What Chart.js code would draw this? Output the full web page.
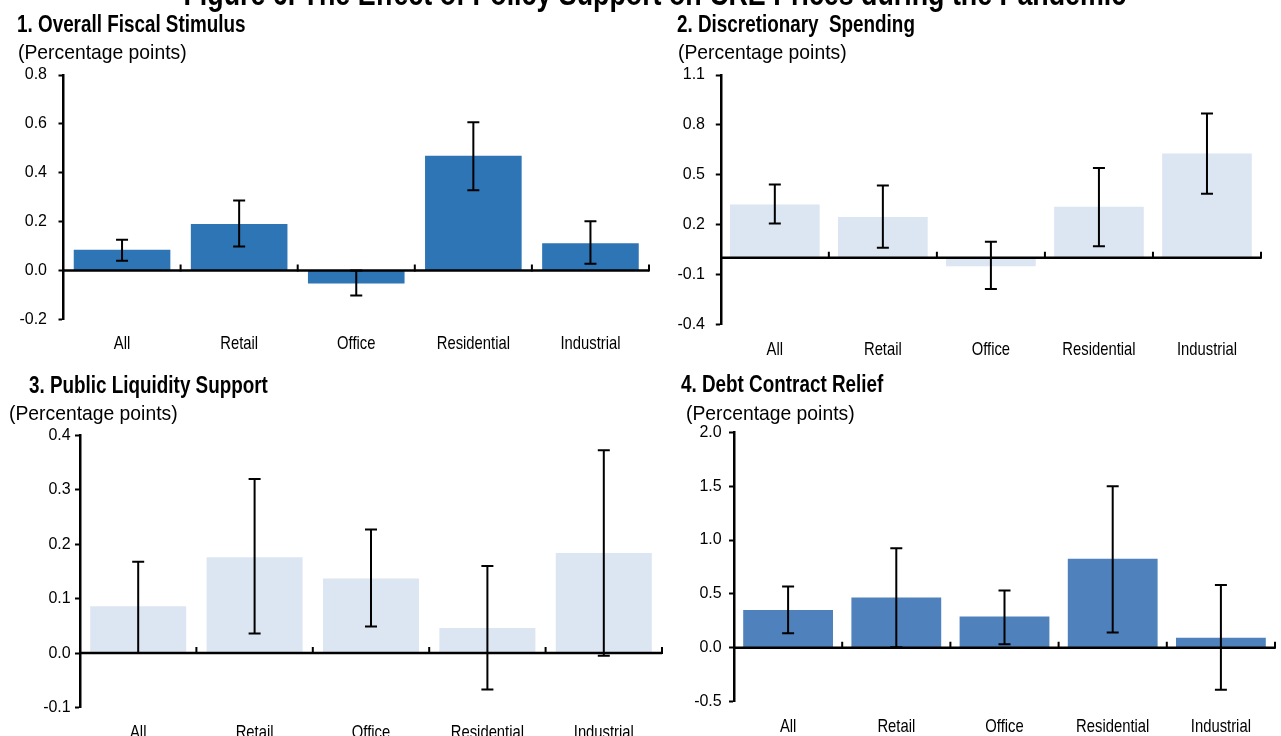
<!DOCTYPE html>
<html lang="en">
<head>
<meta charset="utf-8">
<title>Figure 6. The Effect of Policy Support on CRE Prices during the Pandemic</title>
<script src="https://cdn.jsdelivr.net/npm/chart.js@4.4.1/dist/chart.umd.min.js"></script>
<style>
  html, body { margin: 0; padding: 0; background: #fff; }
  #stage { position: relative; width: 1281px; height: 736px; overflow: hidden;
           font-family: "Liberation Sans", Arial, sans-serif; color: #000; }
  #stage canvas { position: absolute; left: 0; top: 0; }
  .txt { position: absolute; white-space: nowrap; line-height: 1; }
  .main { left: 14px; width: 1281px; text-align: center; top: -22.2px; }
  .main span { display: inline-block; font-weight: bold; font-size: 32.7px; transform: scaleX(0.82); }
  .ttl { font-weight: bold; font-size: 23px; transform: scaleX(0.82); transform-origin: 0 0; }
  .sub { font-size: 21px; transform: scaleX(0.92); transform-origin: 0 0; }
</style>
</head>
<body>
<div id="stage">
  <canvas id="fiscal" width="1281" height="800"></canvas>
  <canvas id="discretionary" width="1281" height="800"></canvas>
  <canvas id="liquidity" width="1281" height="800"></canvas>
  <canvas id="relief" width="1281" height="800"></canvas>

  <div class="txt main"><span>Figure 6. The Effect of Policy Support on CRE Prices during the Pandemic</span></div>

  <div class="txt ttl" style="left:17px; top:12.5px;">1. Overall Fiscal Stimulus</div>
  <div class="txt sub" style="left:18px; top:41.2px;">(Percentage points)</div>

  <div class="txt ttl" style="left:677px; top:12.5px;">2. Discretionary&nbsp; Spending</div>
  <div class="txt sub" style="left:678px; top:41.2px;">(Percentage points)</div>

  <div class="txt ttl" style="left:29px; top:373.5px;">3. Public Liquidity Support</div>
  <div class="txt sub" style="left:9px; top:401.6px;">(Percentage points)</div>

  <div class="txt ttl" style="left:681px; top:372.8px;">4. Debt Contract Relief</div>
  <div class="txt sub" style="left:686px; top:401.6px;">(Percentage points)</div>
</div>

<script>
// Property segments shown on every panel
const categories = ['All', 'Retail', 'Office', 'Residential', 'Industrial'];

// 1. Overall fiscal stimulus: point estimates and confidence bands
const fiscalEstimate = [0.085, 0.19, -0.053, 0.469, 0.111];
const fiscalLower    = [0.040, 0.098, -0.103, 0.328, 0.027];
const fiscalUpper    = [0.126, 0.286, 0.000, 0.607, 0.201];
const fiscalTicks    = [-0.2, 0.0, 0.2, 0.4, 0.6, 0.8];

// 2. Discretionary spending
const discretionaryEstimate = [0.321, 0.245, -0.050, 0.307, 0.628];
const discretionaryLower    = [0.207, 0.060, -0.188, 0.070, 0.385];
const discretionaryUpper    = [0.441, 0.435, 0.096, 0.541, 0.868];
const discretionaryTicks    = [-0.4, -0.1, 0.2, 0.5, 0.8, 1.1];

// 3. Public liquidity support
const liquidityEstimate = [0.086, 0.176, 0.137, 0.046, 0.184];
const liquidityLower    = [0.000, 0.036, 0.049, -0.067, -0.005];
const liquidityUpper    = [0.168, 0.320, 0.227, 0.160, 0.373];
const liquidityTicks    = [-0.1, 0.0, 0.1, 0.2, 0.3, 0.4];

// 4. Debt contract relief
const reliefEstimate = [0.352, 0.467, 0.290, 0.826, 0.093];
const reliefLower    = [0.136, 0.006, 0.034, 0.142, -0.390];
const reliefUpper    = [0.569, 0.924, 0.532, 1.500, 0.584];
const reliefTicks    = [-0.5, 0.0, 0.5, 1.0, 1.5, 2.0];

const W = 1281, H = 800;
const SANS = '"Liberation Sans", Arial, sans-serif';
const Y_AXIS_W = 60;
const X_AXIS_H = 40;

// Zero line, segment separators, confidence bands and condensed segment names
const panelDeco = {
  id: 'panelDeco',
  afterDatasetsDraw(chart, args, opts) {
    const { ctx, chartArea: a, scales: { x, y } } = chart;
    const y0 = y.getPixelForValue(0);
    ctx.save();
    ctx.strokeStyle = '#000';
    ctx.lineCap = 'butt';

    ctx.lineWidth = 2.5;
    ctx.beginPath();
    ctx.moveTo(a.left, y0);
    ctx.lineTo(a.right, y0);
    ctx.stroke();

    ctx.lineWidth = 2;
    ctx.beginPath();
    for (let i = 0; i < chart.data.labels.length; i++) {
      const bx = x.getPixelForValue(i + 0.5);
      ctx.moveTo(bx, y0 + 1);
      ctx.lineTo(bx, y0 - 6);
    }
    ctx.stroke();

    const meta = chart.getDatasetMeta(0);
    ctx.lineWidth = 2;
    meta.data.forEach((bar, i) => {
      const yl = y.getPixelForValue(opts.lower[i]);
      const yh = y.getPixelForValue(opts.upper[i]);
      const cap = 6;
      ctx.beginPath();
      ctx.moveTo(bar.x, yl);
      ctx.lineTo(bar.x, yh);
      ctx.moveTo(bar.x - cap, yl);
      ctx.lineTo(bar.x + cap, yl);
      ctx.moveTo(bar.x - cap, yh);
      ctx.lineTo(bar.x + cap, yh);
      ctx.stroke();
    });

    // segment names under the plot, in a condensed face
    ctx.fillStyle = '#000';
    ctx.font = '18.5px ' + SANS;
    ctx.textAlign = 'center';
    ctx.textBaseline = 'alphabetic';
    const base = a.bottom + opts.labelOffset;
    chart.data.labels.forEach((lab, i) => {
      ctx.save();
      ctx.translate(x.getPixelForValue(i), base);
      ctx.scale(0.8, 1);
      ctx.fillText(lab, 0, 0);
      ctx.restore();
    });
    ctx.restore();
  }
};

function drawPanel(id, p) {
  const ticks = p.ticks;
  const lo = ticks[0], hi = ticks[ticks.length - 1];
  const step = ticks[1] - ticks[0];
  new Chart(document.getElementById(id), {
    type: 'bar',
    data: {
      labels: categories,
      datasets: [{
        data: p.values,
        backgroundColor: p.color,
        borderWidth: 0,
        categoryPercentage: 1,
        barPercentage: p.barPct
      }]
    },
    options: {
      responsive: false,
      animation: false,
      devicePixelRatio: 1,
      layout: {
        padding: {
          left: p.area.l - Y_AXIS_W,
          right: W - p.area.r,
          top: p.area.t,
          bottom: H - p.area.b - X_AXIS_H
        }
      },
      plugins: {
        legend: { display: false },
        tooltip: { enabled: false },
        panelDeco: { lower: p.lower, upper: p.upper, labelOffset: p.labelOffset }
      },
      scales: {
        x: {
          type: 'category',
          offset: true,
          grid: { display: false, drawTicks: false },
          border: { display: false },
          ticks: { display: false },
          afterFit: s => { s.height = X_AXIS_H; }
        },
        y: {
          min: lo,
          max: hi,
          grid: {
            drawOnChartArea: false,
            drawTicks: true,
            tickLength: 5,
            tickWidth: 2,
            tickColor: '#000',
            color: '#000'
          },
          border: { display: true, color: '#000', width: 2.5 },
          ticks: {
            stepSize: step,
            color: '#000',
            padding: p.tickPad,
            font: { family: SANS, size: 16 },
            callback: v => Number(v).toFixed(1)
          },
          afterFit: s => { s.width = Y_AXIS_W; }
        }
      }
    },
    plugins: [panelDeco]
  });
}

drawPanel('fiscal', {
  values: fiscalEstimate, lower: fiscalLower, upper: fiscalUpper, ticks: fiscalTicks,
  color: '#2E75B6', barPct: 0.825, tickPad: 11.5, labelOffset: 30,
  area: { l: 63.5, r: 649, t: 75, b: 319.3 }
});

drawPanel('discretionary', {
  values: discretionaryEstimate, lower: discretionaryLower, upper: discretionaryUpper, ticks: discretionaryTicks,
  color: '#DCE6F2', barPct: 0.83, tickPad: 10.8, labelOffset: 30.5,
  area: { l: 720.8, r: 1261, t: 75, b: 324.3 }
});

drawPanel('liquidity', {
  values: liquidityEstimate, lower: liquidityLower, upper: liquidityUpper, ticks: liquidityTicks,
  color: '#DCE6F2', barPct: 0.825, tickPad: 4.3, labelOffset: 30,
  area: { l: 80, r: 662, t: 435.5, b: 707.5 }
});

drawPanel('relief', {
  values: reliefEstimate, lower: reliefLower, upper: reliefUpper, ticks: reliefTicks,
  color: '#4F81BD', barPct: 0.83, tickPad: 7.3, labelOffset: 30,
  area: { l: 734, r: 1275, t: 432.3, b: 701.7 }
});
</script>
</body>
</html>
